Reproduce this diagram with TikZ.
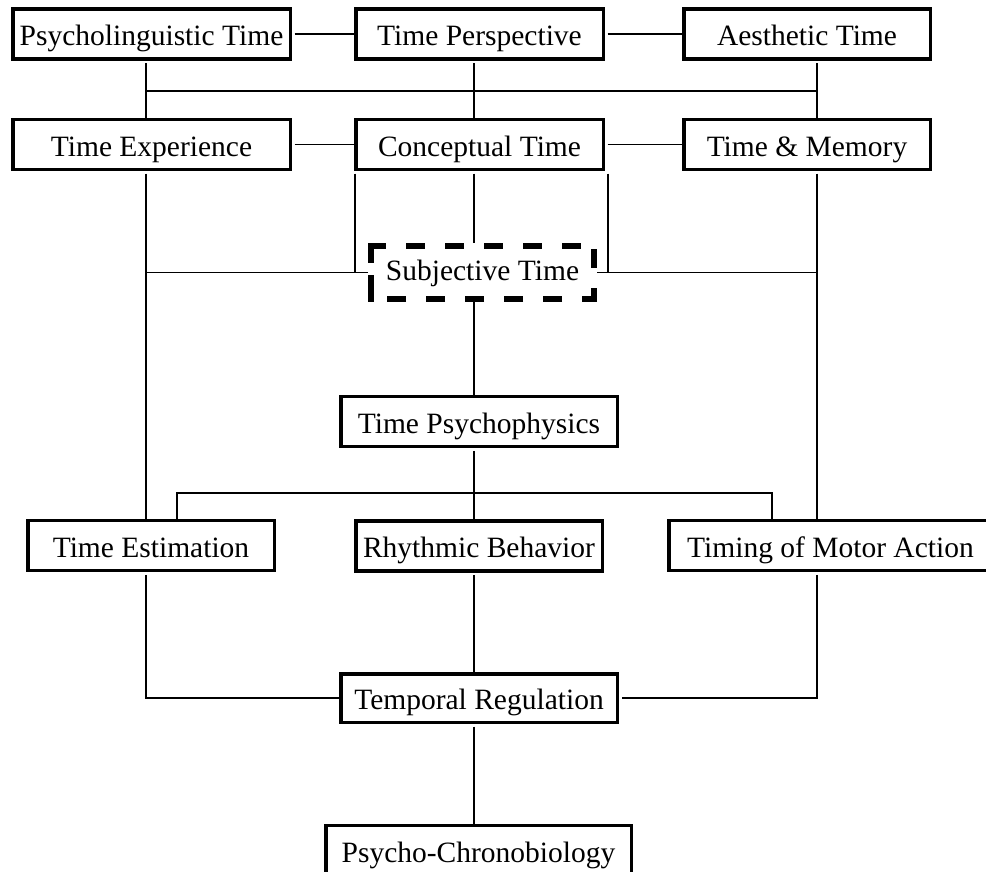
\documentclass[tikz,border=0pt]{standalone}
\usepackage{fontspec}
\setmainfont{Liberation Serif}
\begin{document}
\begin{tikzpicture}[x=1pt,y=-1pt,
  topic/.style={draw,line width=3.5pt,inner sep=0pt,minimum height=50pt,
    text height=23.4pt,text depth=0pt,font=\fontsize{29.5}{32}\selectfont},
  core/.style={topic,draw=none,outer sep=3pt,
    minimum width=223pt,minimum height=53pt,text height=15.5pt},
  coreedge/.style={line width=6pt},
  link/.style={line width=1.8pt},
  from/.style={link,shorten <=2.5pt}]
\useasboundingbox (0,0) rectangle (986,872);
\fill[white] (0,0) rectangle (986,872);

% column and rail coordinates
\coordinate (cL) at (146,0);
\coordinate (cM) at (474,0);
\coordinate (cR) at (817,0);
\coordinate (rail1) at (0,91);
\coordinate (bL) at (177,493);
\coordinate (bR) at (772,493);

% topics
\node[topic,minimum width=277.5pt] (psy)  at (151.5,34) {Psycholinguistic Time};
\node[topic,minimum width=247.5pt] (tper) at (479.5,34) {Time Perspective};
\node[topic,minimum width=246.5pt] (aes)  at (807,34)   {Aesthetic Time};
\node[topic,minimum width=277.5pt] (texp) at (151.5,144.5) {Time Experience};
\node[topic,minimum width=247.5pt] (conc) at (479.5,144.5) {Conceptual Time};
\node[topic,minimum width=246.5pt] (tmem) at (807,144.5)   {Time \& Memory};
\node[core] (subj) at (482.5,272.5) {Subjective Time};
\node[topic,minimum width=276.5pt] (tpsy) at (479,421.5) {Time Psychophysics};
\node[topic,minimum width=246.5pt] (test) at (151,545.5) {Time Estimation};
\node[topic,minimum width=246.5pt] (rhy)  at (479,546)   {Rhythmic Behavior};
\node[topic,minimum width=323.5pt] (tmot) at (830.5,545.5) {Timing of Motor Action};
\node[topic,minimum width=276.5pt,minimum height=48.5pt] (treg) at (479,698) {Temporal Regulation};
\node[topic,minimum width=305.5pt] (pchr) at (478.5,850.5) {Psycho-Chronobiology};

% dashed frame of the core topic, one side at a time
\coordinate (snw) at ([xshift=3pt,yshift=-3pt]subj.north west);
\coordinate (sne) at ([xshift=-3pt,yshift=-3pt]subj.north east);
\coordinate (sse) at ([xshift=-3pt,yshift=3pt]subj.south east);
\coordinate (ssw) at ([xshift=3pt,yshift=3pt]subj.south west);
\draw[coreedge,dash pattern=on 19pt off 20pt,dash phase=1pt] ([xshift=-3pt]snw) -- (sne);
\draw[coreedge,dash pattern=on 19pt off 20pt,dash phase=36pt] (sne) -- (sse);
\draw[coreedge,dash pattern=on 19pt off 20pt,dash phase=4pt] ([xshift=3pt]sse) -- (ssw);
\draw[coreedge,dash pattern=on 20pt off 12pt on 30pt off 10pt] ([yshift=3pt]snw) -- ([yshift=-3pt]ssw);

% top rows
\draw[from] (psy) -- (tper);
\draw[from] (tper) -- (aes);
\draw[from] (texp) -- (conc);
\draw[from] (conc) -- (tmem);
\draw[from] (psy.south -| cL) -- (texp.north -| cL);
\draw[from] (tper.south -| cM) -- (conc.north -| cM);
\draw[from] (aes.south -| cR) -- (tmem.north -| cR);
\draw[link] (cL |- rail1) -- (cR |- rail1);

% into subjective time
\draw[from] (texp.south -| cL) -- (test.north -| cL);
\draw[link] (subj.west -| cL) -- (subj.west);
\draw[from] ([xshift=1pt]conc.south west) -- ([xshift=1pt]conc.south west |- subj.west);
\draw[from] ([xshift=3pt]conc.south east) -- ([xshift=3pt]conc.south east |- subj.east);
\draw[link] (subj.east) -- (subj.east -| cR);
\draw[from] (conc.south -| cM) -- (subj.north -| cM);
\draw[from] (tmem.south -| cR) -- (tmot.north -| cR);

% psychophysics branch
\draw[link] (subj.south -| cM) -- (tpsy.north -| cM);
\draw[from] (tpsy.south -| cM) -- (rhy.north -| cM);
\draw[link] (test.north -| bL) -- (bL) -- (bR) -- (tmot.north -| bR);

% regulation
\draw[from] (test.south -| cL) |- (treg.west);
\draw[from,shorten >=3pt] (tmot.south -| cR) |- (treg.east);
\draw[from] (rhy.south -| cM) -- (treg.north -| cM);
\draw[from] (treg.south -| cM) -- (pchr.north -| cM);
\end{tikzpicture}
\end{document}
